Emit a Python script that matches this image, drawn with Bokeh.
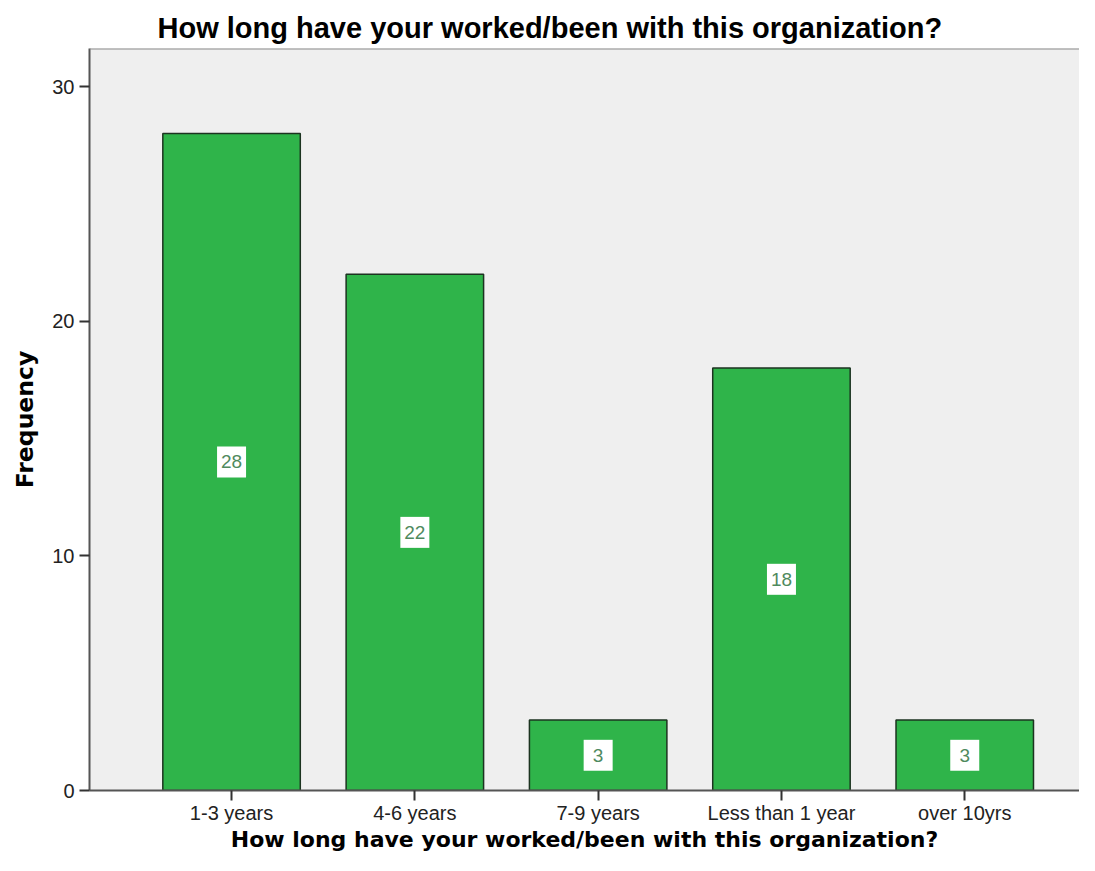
from bokeh.plotting import figure
from bokeh.models import ColumnDataSource, FixedTicker, Range1d, Span
from bokeh.core.properties import value
from bokeh.embed import file_html
from bokeh.resources import INLINE

# ---- data ----
categories = ["1-3 years", "4-6 years", "7-9 years", "Less than 1 year", "over 10yrs"]
frequency = [28, 22, 3, 18, 3]
y_ticks = [0, 10, 20, 30]
title_text = "How long have your worked/been with this organization?"
x_label = "How long have your worked/been with this organization?"
y_label = "Frequency"

xpos = list(range(len(categories)))
src = ColumnDataSource(dict(
    x=xpos,
    top=frequency,
    mid=[v / 2 for v in frequency],
    lab=[str(v) for v in frequency],
))

Y_END = 31.62

p = figure(width=1079, height=855, output_backend="svg", toolbar_location=None,
           x_range=Range1d(-0.775, 4.626), y_range=Range1d(0, Y_END),
           min_border_left=89, min_border_right=0, min_border_top=48,
           min_border_bottom=65)

p.background_fill_color = "#efefef"
p.border_fill_color = "white"
p.outline_line_color = None
p.xgrid.visible = False
p.ygrid.visible = False

# title
p.title.text = title_text
p.title.align = "left"
p.title.offset = 68
p.title.text_font = "Liberation Sans"
p.title.text_font_style = "bold"
p.title.text_font_size = "29px"
p.title.text_color = "black"
p.title.standoff = 10

# top frame border
p.add_layout(Span(location=Y_END, dimension="width", line_color="#8a8a8a", line_width=2))

# bars
p.vbar(x="x", top="top", bottom=0, width=0.75, source=src,
       fill_color="#2fb44a", line_color="#1c3320", line_width=1.5)

# value labels with white boxes
p.rect(x="x", y="mid", width=29, height=31, width_units="screen", height_units="screen",
       source=src, fill_color="white", line_color=None)
p.text(x="x", y="mid", text="lab", source=src, text_align="center", text_baseline="middle",
       text_font=value("Liberation Sans"), text_font_size="19px", text_color="#4f8a5e")

# axes
for ax in (p.xaxis[0], p.yaxis[0]):
    ax.axis_line_color = "#555555"
    ax.axis_line_width = 2
    ax.major_tick_line_color = "#333333"
    ax.major_tick_line_width = 2
    ax.major_tick_out = 10
    ax.major_tick_in = 0
    ax.minor_tick_line_color = None
    ax.major_label_text_font = "Liberation Sans"
    ax.major_label_text_font_size = "20px"
    ax.major_label_text_color = "#222222"
    ax.axis_label_text_font = "DejaVu Sans"
    ax.axis_label_text_font_style = "bold"
    ax.axis_label_text_color = "black"

p.xaxis.ticker = FixedTicker(ticks=xpos)
p.xaxis.major_label_overrides = {i: c for i, c in zip(xpos, categories)}
p.xaxis.major_label_standoff = 1
p.xaxis.axis_label = x_label
p.xaxis.axis_label_text_font_size = "22px"
p.xaxis.axis_label_standoff = 0

p.yaxis.ticker = FixedTicker(ticks=y_ticks)
p.yaxis.major_label_standoff = 5
p.yaxis.axis_label = y_label
p.yaxis.axis_label_text_font_size = "23.5px"
p.yaxis.axis_label_standoff = 10

open("out.html", "w").write(file_html(p, INLINE))
